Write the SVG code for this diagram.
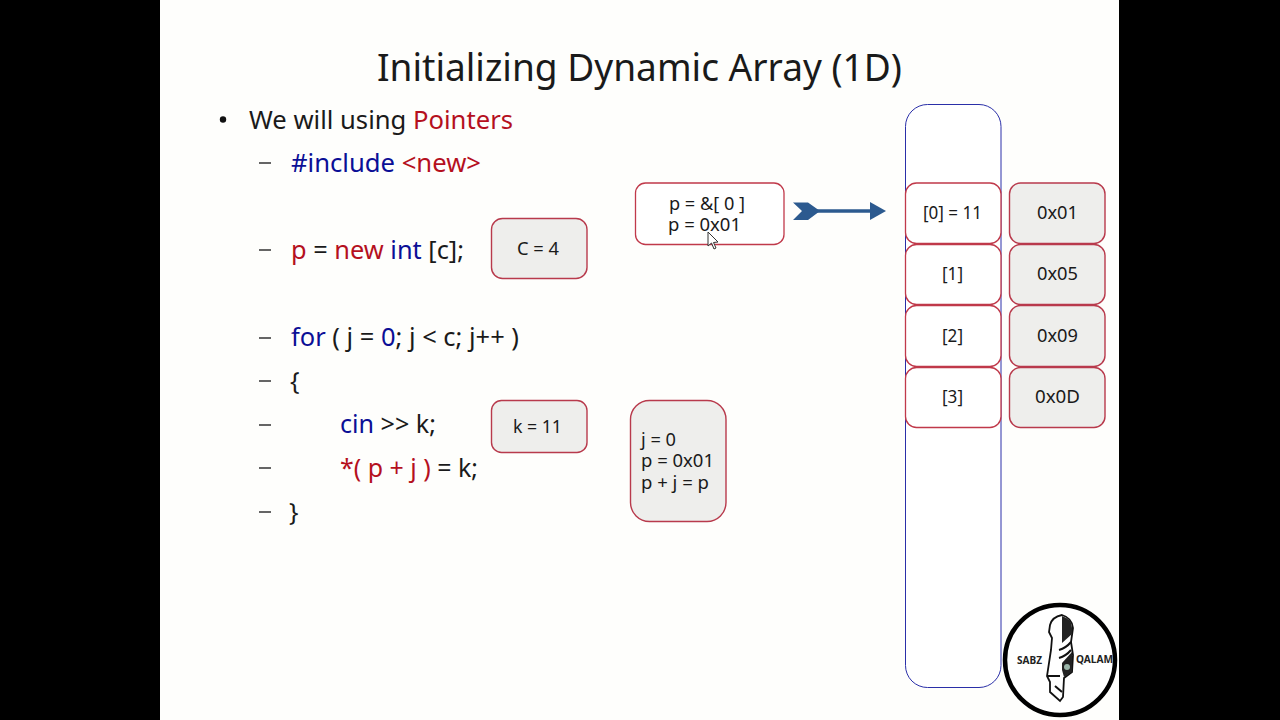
<svg xmlns="http://www.w3.org/2000/svg" width="1280" height="720" viewBox="0 0 1280 720">
<style>
text{font-family:"Noto Sans","Open Sans","DejaVu Sans",sans-serif;fill:#1a1a1a}
.t{font-size:38px}
.b{font-size:25px}
.s{font-size:17.5px}
.r{fill:#b5101e}
.u{fill:#0b0f96}
.d{fill:none;stroke:#333;stroke-width:1.5}
.w{fill:#fff;stroke:#c0394a;stroke-width:1.3}
.g{fill:#eeeeec;stroke:#b83a4c;stroke-width:1.4}
.l{font-size:10px;font-weight:700;fill:#222}
</style>
<rect width="1280" height="720" fill="#000"/>
<rect x="160" y="0" width="959" height="720" fill="#fefefc"/>
<g id="title"><text class="t" x="377" y="81" textLength="525" lengthAdjust="spacingAndGlyphs">Initializing Dynamic Array (1D)</text></g>
<g id="code">
<circle cx="223" cy="119.500" r="3.200" fill="#111"/>
<text class="b" x="249" y="129" textLength="264" lengthAdjust="spacingAndGlyphs">We will using <tspan class="r">Pointers</tspan></text>
<path class="d" d="M259 163H271M259 250H271M259 338H271M259 381H271M259 425H271M259 468H271M259 512H271"/>
<text class="b" x="291" y="172" textLength="190" lengthAdjust="spacingAndGlyphs"><tspan class="u">#include</tspan> <tspan class="r">&lt;new&gt;</tspan></text>
<text class="b" x="291" y="259" textLength="173" lengthAdjust="spacingAndGlyphs"><tspan class="r">p</tspan> = <tspan class="r">new</tspan> <tspan class="u">int</tspan> [c];</text>
<text class="b" x="291" y="346" textLength="228" lengthAdjust="spacingAndGlyphs"><tspan class="u">for</tspan> ( j = <tspan class="u">0</tspan>; j &lt; c; j++ )</text>
<text class="b" x="290" y="390">{</text>
<text class="b" x="340" y="433" textLength="96" lengthAdjust="spacingAndGlyphs"><tspan class="u">cin</tspan> &gt;&gt; k;</text>
<text class="b" x="340" y="477" textLength="138" lengthAdjust="spacingAndGlyphs"><tspan class="r">*( p + j )</tspan> = k;</text>
<text class="b" x="289" y="521">}</text>
</g>
<g id="box-c"><rect class="g" x="491.500" y="218.500" width="95.500" height="60" rx="11"/><text class="s" x="517" y="255" textLength="42" lengthAdjust="spacingAndGlyphs">C = 4</text></g>
<g id="box-k"><rect class="g" x="491.500" y="400.500" width="95.500" height="52" rx="10"/><text class="s" x="513" y="433" textLength="49" lengthAdjust="spacingAndGlyphs">k = 11</text></g>
<g id="box-j"><rect class="g" x="630.500" y="400.500" width="95.500" height="121" rx="19"/><text class="s" x="641" y="446" textLength="35" lengthAdjust="spacingAndGlyphs">j = 0</text><text class="s" x="641" y="467" textLength="73" lengthAdjust="spacingAndGlyphs">p = 0x01</text><text class="s" x="641" y="489" textLength="68" lengthAdjust="spacingAndGlyphs">p + j = p</text></g>
<g id="box-p"><rect class="w" x="635.500" y="183" width="148.500" height="61.500" rx="10"/><text class="s" x="669" y="210" textLength="76" lengthAdjust="spacingAndGlyphs">p = &amp;[ 0 ]</text><text class="s" x="668" y="231" textLength="73" lengthAdjust="spacingAndGlyphs">p = 0x01</text></g>
<path id="cursor" d="M708 232V246L711.500 243L714 249L716 248L713.500 242.500L718 242Z" fill="#fff" stroke="#333" stroke-width="1"/>
<g id="connectors"><path d="M793 202.500H808L820 211L808 220H793L802 211Z" fill="#2c5a8f"/><path d="M815 211H875" stroke="#2c5a8f" stroke-width="3.500"/><path d="M870 202L886 211L870 220Z" fill="#2c5a8f"/></g>
<g id="array"><rect x="905.500" y="104.500" width="95.500" height="583" rx="22" fill="#fff" stroke="#2a2fa8" stroke-width="1"/></g>
<g id="cell-0"><rect class="w" x="905.500" y="183" width="95.500" height="60.500" rx="11"/><text class="s" x="923" y="219" textLength="59" lengthAdjust="spacingAndGlyphs">[0] = 11</text></g>
<g id="cell-1"><rect class="w" x="905.500" y="244.500" width="95.500" height="60" rx="11"/><text class="s" x="942" y="280" textLength="21" lengthAdjust="spacingAndGlyphs">[1]</text></g>
<g id="cell-2"><rect class="w" x="905.500" y="305.500" width="95.500" height="61" rx="11"/><text class="s" x="942" y="342" textLength="21" lengthAdjust="spacingAndGlyphs">[2]</text></g>
<g id="cell-3"><rect class="w" x="905.500" y="367.500" width="95.500" height="60" rx="11"/><text class="s" x="942" y="403" textLength="21" lengthAdjust="spacingAndGlyphs">[3]</text></g>
<g id="addr-0"><rect class="g" x="1009.500" y="183" width="95.500" height="60.500" rx="11"/><text class="s" x="1037" y="219" textLength="41" lengthAdjust="spacingAndGlyphs">0x01</text></g>
<g id="addr-1"><rect class="g" x="1009.500" y="244.500" width="95.500" height="60" rx="11"/><text class="s" x="1037" y="280" textLength="41" lengthAdjust="spacingAndGlyphs">0x05</text></g>
<g id="addr-2"><rect class="g" x="1009.500" y="305.500" width="95.500" height="61" rx="11"/><text class="s" x="1037" y="342" textLength="41" lengthAdjust="spacingAndGlyphs">0x09</text></g>
<g id="addr-3"><rect class="g" x="1009.500" y="367.500" width="95.500" height="60" rx="11"/><text class="s" x="1035" y="403" textLength="45" lengthAdjust="spacingAndGlyphs">0x0D</text></g>
<g id="logo">
<circle cx="1060" cy="660" r="55" fill="#fff" stroke="#000" stroke-width="4.500"/>
<path d="M1050 625Q1052 617 1062 615Q1072 618 1073 628L1071 642L1073 655L1072 672L1064 678L1063 697L1060 701L1050 692V682L1047 676L1051 650L1052 638L1049 632Z" fill="#fff" stroke="#111" stroke-width="1.800"/>
<path d="M1062 616Q1072 619 1072 628V634L1062 643Z" fill="#222"/>
<path d="M1062 670V663L1072 652V672L1064 677Z" fill="#222"/>
<circle cx="1067" cy="667" r="3" fill="#9ab5a8"/>
<path d="M1059 650Q1066 648 1071 642M1059 658Q1066 656 1071 650M1048 676H1060M1055 686L1062 692" fill="none" stroke="#111" stroke-width="2"/>
<text class="l" x="1017" y="664" textLength="25" lengthAdjust="spacingAndGlyphs">SABZ</text><text class="l" x="1076" y="663" textLength="37" lengthAdjust="spacingAndGlyphs">QALAM</text>
</g>
</svg>
